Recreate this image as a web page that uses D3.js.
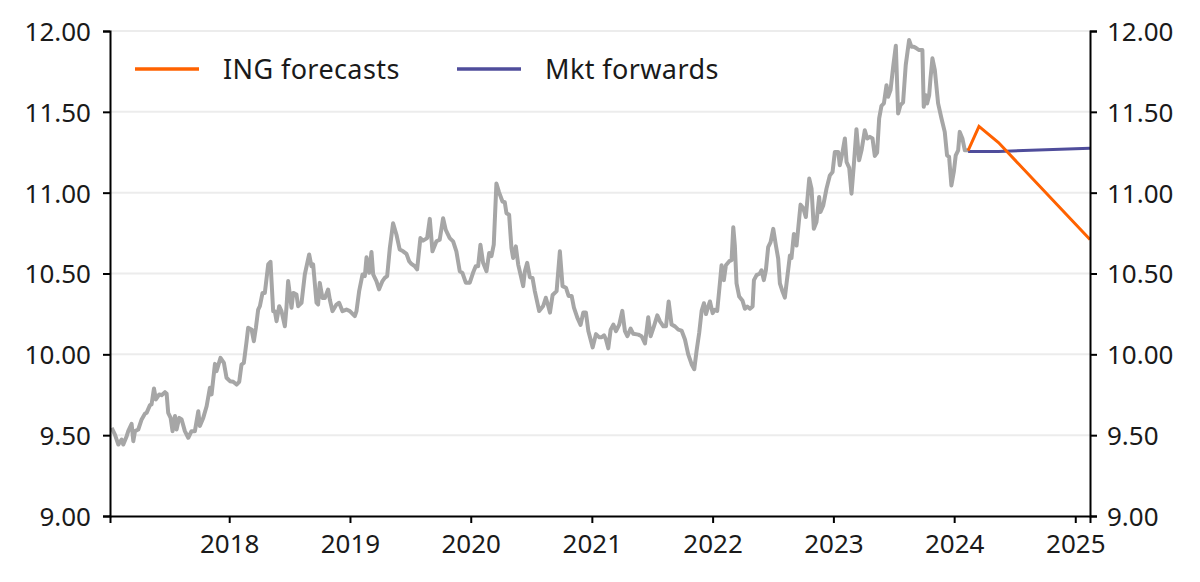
<!DOCTYPE html>
<html>
<head>
<meta charset="utf-8">
<script src="https://cdn.jsdelivr.net/npm/d3@7"></script>
<style>
  body { margin: 0; background: #fff; }
  svg text { font-family: "Noto Sans", sans-serif; fill: #1a1a1a; }
</style>
</head>
<body>
<div id="container"></div>
<script>
'use strict'

// dates kept as decimal years
const spotYears = [
  2017.027,2017.054,2017.082,2017.109,2017.123,2017.151,2017.164,2017.192,2017.206,2017.220,
  2017.247,2017.275,2017.302,2017.316,2017.344,2017.357,2017.377,2017.393,2017.421,2017.440,
  2017.468,2017.482,2017.495,2017.515,2017.531,2017.551,2017.564,2017.586,2017.606,2017.633,
  2017.661,2017.688,2017.716,2017.744,2017.757,2017.785,2017.813,2017.840,2017.854,2017.882,
  2017.895,2017.928,2017.956,2017.978,2018.006,2018.033,2018.061,2018.083,2018.102,2018.121,
  2018.144,2018.157,2018.185,2018.204,2018.221,2018.240,2018.254,2018.276,2018.295,2018.323,
  2018.342,2018.364,2018.378,2018.392,2018.414,2018.433,2018.461,2018.474,2018.488,2018.516,
  2018.530,2018.557,2018.571,2018.599,2018.626,2018.662,2018.681,2018.695,2018.723,2018.736,
  2018.750,2018.772,2018.792,2018.819,2018.833,2018.855,2018.888,2018.910,2018.938,2018.971,
  2018.999,2019.040,2019.054,2019.076,2019.104,2019.123,2019.137,2019.159,2019.178,2019.192,
  2019.219,2019.241,2019.269,2019.288,2019.308,2019.330,2019.357,2019.385,2019.412,2019.440,
  2019.468,2019.490,2019.509,2019.537,2019.556,2019.583,2019.605,2019.639,2019.661,2019.683,
  2019.716,2019.743,2019.771,2019.793,2019.826,2019.854,2019.881,2019.909,2019.931,2019.959,
  2019.992,2020.019,2020.041,2020.061,2020.080,2020.102,2020.130,2020.152,2020.171,2020.190,
  2020.212,2020.234,2020.262,2020.281,2020.295,2020.317,2020.336,2020.350,2020.372,2020.392,
  2020.411,2020.433,2020.447,2020.466,2020.488,2020.510,2020.529,2020.565,2020.598,2020.620,
  2020.640,2020.654,2020.676,2020.709,2020.736,2020.758,2020.786,2020.808,2020.833,2020.852,
  2020.880,2020.907,2020.929,2020.951,2020.971,2021.007,2021.034,2021.062,2021.081,2021.101,
  2021.117,2021.136,2021.156,2021.178,2021.200,2021.227,2021.252,2021.274,2021.294,2021.321,
  2021.343,2021.385,2021.412,2021.440,2021.467,2021.487,2021.514,2021.542,2021.564,2021.592,
  2021.614,2021.636,2021.660,2021.688,2021.716,2021.743,2021.771,2021.798,2021.826,2021.848,
  2021.867,2021.889,2021.909,2021.928,2021.945,2021.964,2021.978,2022.000,2022.019,2022.038,
  2022.060,2022.074,2022.093,2022.110,2022.138,2022.157,2022.171,2022.184,2022.198,2022.220,
  2022.248,2022.267,2022.287,2022.309,2022.331,2022.342,2022.364,2022.391,2022.405,2022.424,
  2022.441,2022.460,2022.480,2022.502,2022.524,2022.543,2022.557,2022.579,2022.598,2022.617,
  2022.640,2022.653,2022.673,2022.695,2022.728,2022.750,2022.772,2022.800,2022.819,2022.838,
  2022.860,2022.882,2022.893,2022.916,2022.943,2022.971,2022.993,2023.012,2023.040,2023.053,
  2023.076,2023.095,2023.109,2023.131,2023.150,2023.169,2023.191,2023.213,2023.233,2023.260,
  2023.280,2023.302,2023.324,2023.343,2023.362,2023.379,2023.398,2023.418,2023.440,2023.453,
  2023.473,2023.495,2023.517,2023.536,2023.555,2023.577,2023.599,2023.627,2023.646,2023.666,
  2023.688,2023.710,2023.737,2023.748,2023.765,2023.776,2023.793,2023.804,2023.820,2023.840,
  2023.867,2023.895,2023.922,2023.941,2023.958,2023.977,2023.997,2024.013,2024.033,2024.046,
  2024.068,2024.088,2024.115
];
const spotValues = [
  9.545,9.504,9.442,9.473,9.442,9.494,9.525,9.570,9.463,9.525,
  9.535,9.597,9.632,9.638,9.686,9.690,9.789,9.721,9.752,9.747,
  9.766,9.756,9.638,9.607,9.525,9.618,9.535,9.607,9.597,9.525,
  9.484,9.525,9.525,9.648,9.556,9.607,9.679,9.793,9.752,9.941,
  9.896,9.978,9.947,9.855,9.834,9.830,9.813,9.830,9.937,9.947,
  10.081,10.164,10.154,10.081,10.164,10.277,10.298,10.380,10.380,10.556,
  10.572,10.267,10.267,10.205,10.298,10.267,10.174,10.288,10.453,10.288,
  10.380,10.370,10.298,10.319,10.494,10.618,10.545,10.556,10.319,10.308,
  10.442,10.349,10.349,10.401,10.339,10.267,10.308,10.319,10.267,10.277,
  10.267,10.236,10.268,10.391,10.494,10.484,10.600,10.504,10.633,10.494,
  10.453,10.402,10.453,10.473,10.484,10.658,10.811,10.740,10.648,10.637,
  10.621,10.576,10.559,10.545,10.525,10.719,10.703,10.719,10.838,10.637,
  10.699,10.709,10.842,10.770,10.719,10.699,10.637,10.514,10.504,10.443,
  10.443,10.504,10.545,10.545,10.678,10.566,10.514,10.627,10.607,10.678,
  11.057,11.002,10.945,10.941,10.873,10.863,10.658,10.596,10.668,10.555,
  10.494,10.422,10.514,10.566,10.477,10.473,10.391,10.268,10.299,10.350,
  10.299,10.258,10.367,10.391,10.637,10.422,10.412,10.361,10.361,10.289,
  10.227,10.182,10.258,10.258,10.145,10.043,10.125,10.105,10.106,10.118,
  10.092,10.037,10.153,10.184,10.143,10.184,10.269,10.143,10.112,10.159,
  10.127,10.122,10.112,10.067,10.229,10.112,10.173,10.241,10.204,10.173,
  10.173,10.327,10.184,10.173,10.153,10.147,10.092,10.000,9.939,9.908,
  10.020,10.133,10.269,10.316,10.249,10.296,10.327,10.255,10.276,10.269,
  10.439,10.551,10.459,10.551,10.576,10.582,10.786,10.673,10.439,10.357,
  10.331,10.282,10.296,10.282,10.296,10.459,10.490,10.500,10.520,10.459,
  10.520,10.663,10.694,10.776,10.673,10.592,10.439,10.388,10.351,10.469,
  10.612,10.596,10.745,10.673,10.926,10.905,10.849,11.087,11.025,10.777,
  10.818,10.973,10.880,10.921,11.025,11.107,11.128,11.252,11.252,11.169,
  11.252,11.335,11.190,11.153,10.994,11.169,11.393,11.200,11.262,11.386,
  11.335,11.345,11.335,11.227,11.248,11.459,11.537,11.552,11.665,11.593,
  11.634,11.779,11.909,11.490,11.541,11.558,11.789,11.944,11.903,11.903,
  11.893,11.882,11.882,11.531,11.603,11.552,11.603,11.707,11.831,11.758,
  11.552,11.459,11.376,11.231,11.221,11.045,11.128,11.231,11.262,11.376,
  11.335,11.262,11.262
];

const forecastYears = [2024.115, 2024.205, 2024.366, 2025.122];
const forecastValues = [11.26, 11.41, 11.31, 10.71];

const forwardYears = [2024.115, 2024.366, 2025.122];
const forwardValues = [11.255, 11.255, 11.275];

const yTicks = [9.0, 9.5, 10.0, 10.5, 11.0, 11.5, 12.0];
const xTickYears = [2018, 2019, 2020, 2021, 2022, 2023, 2024, 2025];
const xDomainYears = [2017.013, 2025.122];

const seriesNames = ['ING forecasts', 'Mkt forwards'];
const seriesColors = ['#ff6200', '#4f4d9b'];

// decimal year -> Date
function toDate(y) {
  const yr = Math.floor(y);
  const start = new Date(yr, 0, 1), end = new Date(yr + 1, 0, 1);
  return new Date(start.getTime() + (y - yr) * (end - start));
}
const pairs = (xs, ys) => xs.map((x, i) => ({ date: toDate(x), value: ys[i] }));

const spot = pairs(spotYears, spotValues);
const forecast = pairs(forecastYears, forecastValues);
const forward = pairs(forwardYears, forwardValues);

const w = 1200, h = 582;
const margin = { top: 31, right: 110, bottom: 66, left: 110 };

const svg = d3.select('#container').append('svg')
  .attr('width', w).attr('height', h);

const xScale = d3.scaleTime()
  .domain(xDomainYears.map(toDate))
  .range([margin.left, w - margin.right]);
const yScale = d3.scaleLinear()
  .domain([9, 12])
  .range([h - margin.bottom, margin.top]);

// gridlines
svg.append('g').selectAll('line')
  .data(yTicks.filter(d => d > 9))
  .enter().append('line')
  .attr('x1', margin.left).attr('x2', w - margin.right)
  .attr('y1', d => yScale(d)).attr('y2', d => yScale(d))
  .attr('stroke', '#ececec').attr('stroke-width', 2);

const line = d3.line().x(d => xScale(d.date)).y(d => yScale(d.value));

svg.append('path').datum(spot)
  .attr('d', line).attr('fill', 'none')
  .attr('stroke', '#a6a6a6').attr('stroke-width', 4)
  .attr('stroke-linejoin', 'round');

svg.append('path').datum(forward)
  .attr('d', line).attr('fill', 'none')
  .attr('stroke', seriesColors[1]).attr('stroke-width', 3);

svg.append('path').datum(forecast)
  .attr('d', line).attr('fill', 'none')
  .attr('stroke', seriesColors[0]).attr('stroke-width', 3);

// axes
const fmt = d3.format('.2f');
const styleAxis = g => {
  g.selectAll('path, line').attr('stroke', '#000').attr('stroke-width', 2);
  g.selectAll('text').style('font-size', '26px').attr('fill', '#1a1a1a');
};

svg.append('g')
  .attr('transform', 'translate(' + margin.left + ',0)')
  .call(d3.axisLeft(yScale).tickValues(yTicks).tickFormat(fmt).tickSizeOuter(0).tickSize(7).tickPadding(12))
  .call(styleAxis)
  .call(g => g.selectAll('text').attr('dy', '0.36em'));

svg.append('g')
  .attr('transform', 'translate(' + (w - margin.right) + ',0)')
  .call(d3.axisRight(yScale).tickValues(yTicks).tickFormat(fmt).tickSizeOuter(0).tickSize(7).tickPadding(10))
  .call(styleAxis)
  .call(g => g.selectAll('text').attr('dy', '0.36em'));

svg.append('g')
  .attr('transform', 'translate(0,' + (h - margin.bottom) + ')')
  .call(d3.axisBottom(xScale).tickValues(xTickYears.map(y => new Date(y, 0, 1)))
    .tickFormat(d3.timeFormat('%Y')).tickSizeOuter(0).tickSize(7).tickPadding(12))
  .call(styleAxis)
  .call(g => g.selectAll('text').attr('dy', '0.71em'));

// legend
const legend = svg.append('g');
const legendX = [135, 457];
seriesNames.forEach((name, i) => {
  legend.append('line')
    .attr('x1', legendX[i]).attr('x2', legendX[i] + 64)
    .attr('y1', 69).attr('y2', 69)
    .attr('stroke', seriesColors[i]).attr('stroke-width', 3.5);
  legend.append('text')
    .attr('x', legendX[i] + 88).attr('y', 69).attr('dy', '0.36em')
    .style('font-size', '27px').style('letter-spacing', '0.4px')
    .text(name);
});
</script>
</body>
</html>
